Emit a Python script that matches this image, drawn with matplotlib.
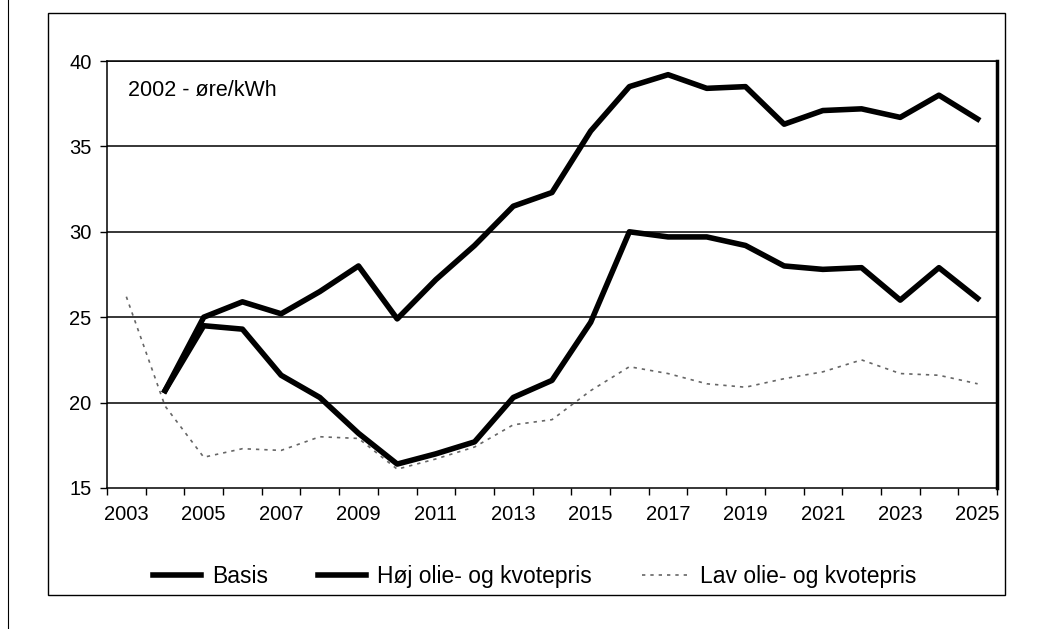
import matplotlib.pyplot as plt
from matplotlib.lines import Line2D
from matplotlib.patches import Rectangle

plt.rcParams['font.family'] = ['Liberation Sans', 'DejaVu Sans']

years = list(range(2003, 2026))
tick_years = list(range(2003, 2026, 2))

basis = [None, 20.7, 24.5, 24.3, 21.6, 20.3, 18.2, 16.4, 17.0, 17.7, 20.3, 21.3,
         24.7, 30.0, 29.7, 29.7, 29.2, 28.0, 27.8, 27.9, 26.0, 27.9, 26.1]
hoej = [None, 20.7, 25.0, 25.9, 25.2, 26.5, 28.0, 24.9, 27.2, 29.2, 31.5, 32.3,
        35.9, 38.5, 39.2, 38.4, 38.5, 36.3, 37.1, 37.2, 36.7, 38.0, 36.6]
lav = [26.2, 19.8, 16.8, 17.3, 17.2, 18.0, 17.9, 16.1, 16.7, 17.4, 18.7, 19.0,
       20.7, 22.1, 21.7, 21.1, 20.9, 21.4, 21.8, 22.5, 21.7, 21.6, 21.1]

def pairs(vals):
    xs = [y for y, v in zip(years, vals) if v is not None]
    ys = [v for v in vals if v is not None]
    return xs, ys

fig = plt.figure(figsize=(10.5, 6.29), dpi=100)
ax = fig.add_axes([0.1019, 0.2242, 0.8476, 0.6788])

# frame around the whole chart and the page edge at left
fig.patches.append(Rectangle((48 / 1050, 34 / 629), 957 / 1050, 582 / 629,
                             transform=fig.transFigure, fill=False,
                             edgecolor='black', lw=1.0))
fig.add_artist(Line2D([8 / 1050, 8 / 1050], [0, 1], transform=fig.transFigure,
                      color='black', lw=0.8))

for yv in [20, 25, 30, 35, 40]:
    ax.axhline(yv, color='black', lw=1.1, zorder=1)

x, y = pairs(lav)
ax.plot(x, y, color='#666666', lw=1.2, linestyle=(0, (2, 3)), zorder=2)
x, y = pairs(basis)
ax.plot(x, y, color='black', lw=4, solid_joinstyle='round', zorder=3)
x, y = pairs(hoej)
ax.plot(x, y, color='black', lw=4, solid_joinstyle='round', zorder=3)

ax.set_xlim(2002.5, 2025.5)
ax.set_ylim(15, 40)
ax.set_yticks([15, 20, 25, 30, 35, 40])
ax.set_xticks(tick_years)
ax.set_xticklabels([str(t) for t in tick_years])
ax.set_xticks([y + 0.5 for y in range(2002, 2026)], minor=True)
ax.tick_params(axis='x', which='major', length=0, labelsize=14.5, pad=12)
ax.tick_params(axis='x', which='minor', length=5, width=1, direction='out')
ax.tick_params(axis='y', length=5, width=1, direction='out', labelsize=14.5, pad=6)

for side in ['left', 'bottom', 'top']:
    ax.spines[side].set_linewidth(1.1)
ax.spines['right'].set_linewidth(2.5)

ax.text(0.024, 0.955, '2002 - øre/kWh', transform=ax.transAxes,
        fontsize=15.5, va='top', ha='left')

handles = [Line2D([], [], color='black', lw=4),
           Line2D([], [], color='black', lw=4),
           Line2D([], [], color='#666666', lw=1.2, linestyle=(0, (2, 3)))]
labels = ['Basis', 'Høj olie- og kvotepris', 'Lav olie- og kvotepris']
fig.legend(handles, labels, loc='center', bbox_to_anchor=(0.5095, 0.0827),
           ncol=3, frameon=False, fontsize=16.5, handlelength=2.1,
           handletextpad=0.45, columnspacing=2.2)

fig.savefig('out.png', dpi=100)
